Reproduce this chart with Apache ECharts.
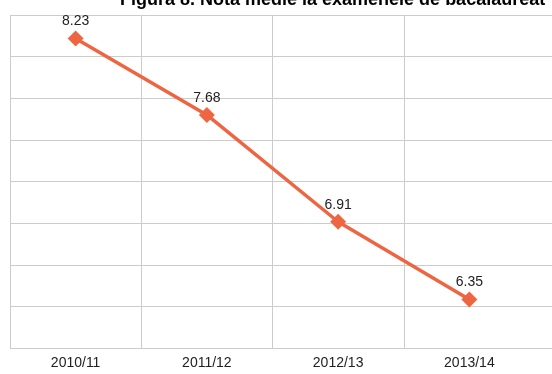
<!DOCTYPE html>
<html>
<head>
<meta charset="utf-8">
<script src="https://cdn.jsdelivr.net/npm/echarts@6/dist/echarts.min.js"></script>
<style>
  html, body { margin: 0; padding: 0; background: #fff; }
  #chart { width: 552px; height: 374px; }
</style>
</head>
<body>
<div id="chart"></div>
<script>
// School years and average baccalaureate grade
const years = ['2010/11', '2011/12', '2012/13', '2013/14'];
const avgGrade = [8.23, 7.68, 6.91, 6.35];

// Value axis range
const yMin = 6.0;
const yMax = 8.4;
const yStep = 0.3;

const lineColor = '#ee6541';
const gridColor = '#cccccc';
const font = 'Liberation Sans, Arial, sans-serif';

const chart = echarts.init(document.getElementById('chart'));
chart.setOption({
  animation: false,
  title: {
    text: 'Figura 8. Nota medie la examenele de bacalaureat',
    left: 115,
    top: -14,
    textStyle: { fontFamily: font, fontWeight: 'bold', fontSize: 18, color: '#000' }
  },
  grid: [
    { left: 10, right: 17, top: 15, bottom: 26 },
    { left: 10, right: -10, top: 15, bottom: 26 }
  ],
  xAxis: [
    {
      type: 'category',
      data: years,
      gridIndex: 0,
      boundaryGap: true,
      axisLine: { show: false },
      axisTick: { show: false },
      axisLabel: { margin: 8, fontSize: 14, color: '#222', fontFamily: font },
      splitLine: { show: true, showMaxLine: false, lineStyle: { color: gridColor, width: 1 } }
    },
    { type: 'value', gridIndex: 1, show: false, min: 0, max: 1 }
  ],
  yAxis: [
    {
      type: 'value', gridIndex: 0, min: yMin, max: yMax, interval: yStep,
      axisLine: { show: false }, axisTick: { show: false }, axisLabel: { show: false },
      splitLine: { show: false }
    },
    {
      type: 'value', gridIndex: 1, min: yMin, max: yMax, interval: yStep,
      axisLine: { show: false }, axisTick: { show: false }, axisLabel: { show: false },
      splitLine: { show: true, lineStyle: { color: gridColor, width: 1 } }
    }
  ],
  series: [{
    type: 'line',
    xAxisIndex: 0,
    yAxisIndex: 0,
    data: avgGrade,
    symbol: 'diamond',
    symbolSize: 16,
    lineStyle: { color: lineColor, width: 3.5 },
    itemStyle: { color: lineColor },
    label: {
      show: true,
      position: 'top',
      distance: 2,
      fontSize: 14,
      color: '#222',
      fontFamily: font,
      formatter: p => p.value.toFixed(2)
    },
    z: 5
  }]
});
</script>
</body>
</html>
